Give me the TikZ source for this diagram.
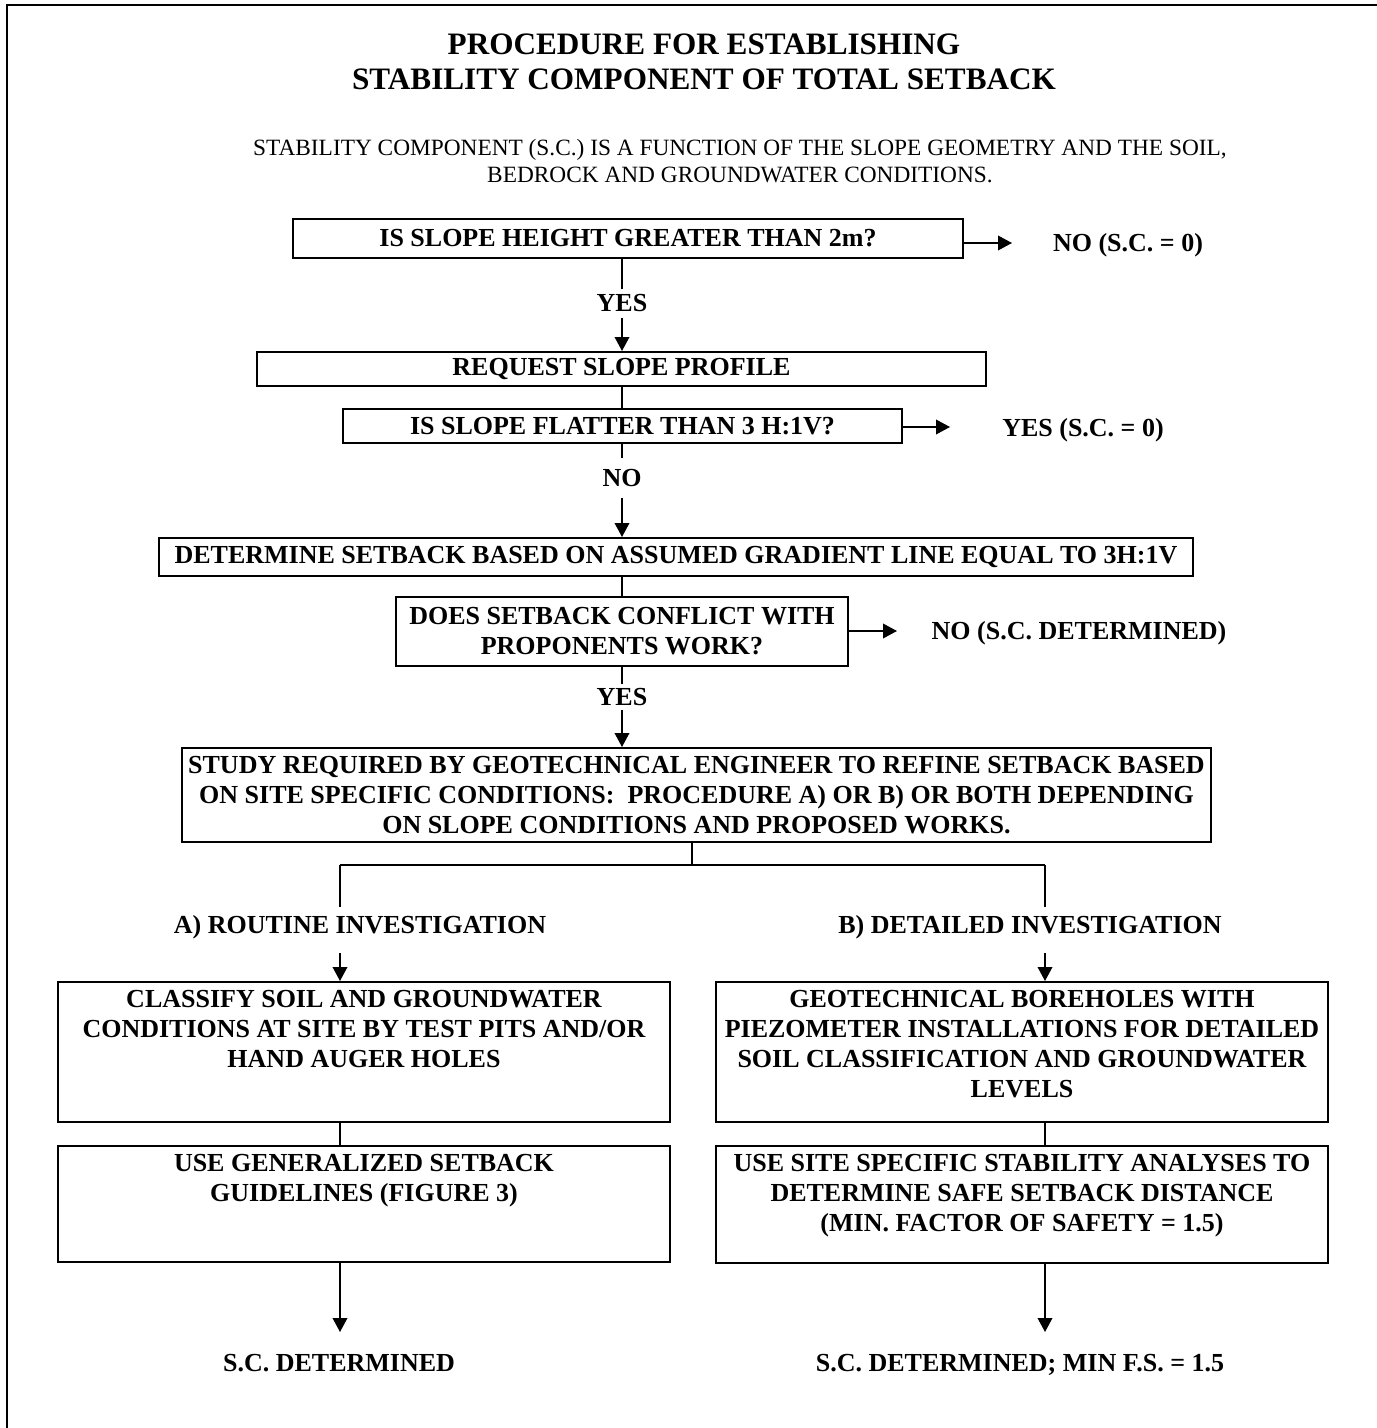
\documentclass[tikz,border=0pt]{standalone}
\usepackage{fontspec}
\setmainfont{Liberation Serif}
\usetikzlibrary{arrows.meta}

\newcommand{\fctitle}{\fontsize{23.4pt}{26.25pt}\selectfont\bfseries}
\newcommand{\fcnote}{\fontsize{17.5pt}{20.6pt}\selectfont}
\newcommand{\fcbox}{\fontsize{19.5pt}{22.5pt}\selectfont\bfseries}

\tikzset{every picture/.style={line width=1.1pt}}
\tikzset{
  box/.style={draw, line width=1.5pt, inner sep=0pt, align=center, font=\fcbox},
  boxtext/.style={inner sep=0pt, align=center, font=\fcbox},
  outcome/.style={inner sep=0pt, font=\fcbox},
  answer/.style={fill=white, inner xsep=2pt, inner ysep=3.5pt, font=\fcbox},
  flowarrow/.style={-{Triangle[length=10.5pt,width=11pt]}},
}

\begin{document}
\begin{tikzpicture}[x=0.75pt,y=0.75pt,yscale=-1,xscale=1]
\useasboundingbox (0,0) rectangle (1377,1428);

%Straight Lines (frame)
\draw [line width=1.3pt] (7,1428) -- (7,5) -- (1377,5) ;

% Text Node
\node (title) at (704,61.5) [align=center, inner sep=0pt, font=\fctitle] {PROCEDURE FOR ESTABLISHING\\STABILITY COMPONENT OF TOTAL SETBACK};
% Text Node
\node (note) at (740,161) [align=center, inner sep=0pt, font=\fcnote] {STABILITY COMPONENT (S.C.) IS A FUNCTION OF THE SLOPE GEOMETRY AND THE SOIL,\\BEDROCK AND GROUNDWATER CONDITIONS.};

%Flowchart: Process
\node (height) at (628,238.5) [box, minimum width=502.5pt, minimum height=29.25pt] {IS SLOPE HEIGHT GREATER THAN 2m?};
%Flowchart: Process
\node (request) at (621.5,369) [box, minimum width=546.75pt, minimum height=25.5pt] {REQUEST SLOPE PROFILE};
%Flowchart: Process
\node (flatter) at (622.5,426) [box, minimum width=419.25pt, minimum height=25.5pt] {IS SLOPE FLATTER THAN 3 H:1V?};
%Flowchart: Process
\node (gradient) at (676,557) [box, minimum width=775.5pt, minimum height=28.5pt] {DETERMINE SETBACK BASED ON ASSUMED GRADIENT LINE EQUAL TO 3H:1V};
%Flowchart: Process
\node (conflict) at (622,631.5) [box, minimum width=339pt, minimum height=51.75pt] {DOES SETBACK CONFLICT WITH\\PROPONENTS WORK?};
%Flowchart: Process
\node (study) at (696.5,795) [box, minimum width=771.75pt, minimum height=70.5pt] {STUDY REQUIRED BY GEOTECHNICAL ENGINEER TO REFINE SETBACK BASED\\ON SITE SPECIFIC CONDITIONS:\ \ PROCEDURE A) OR B) OR BOTH DEPENDING\\ON SLOPE CONDITIONS AND PROPOSED WORKS.};

%Flowchart: Process
\node (classify) at (364,1052) [box, minimum width=459pt, minimum height=105pt] {};
\node (classifytxt) at (364,989.5) [boxtext, anchor=north] {CLASSIFY SOIL AND GROUNDWATER\\CONDITIONS AT SITE BY TEST PITS AND/OR\\HAND AUGER HOLES};
%Flowchart: Process
\node (general) at (364,1204) [box, minimum width=459pt, minimum height=87pt] {};
\node (generaltxt) at (364,1153.5) [boxtext, anchor=north] {USE GENERALIZED SETBACK\\GUIDELINES (FIGURE 3)};
%Flowchart: Process
\node (borehole) at (1022,1052) [box, minimum width=459pt, minimum height=105pt] {};
\node (boreholetxt) at (1022,989.5) [boxtext, anchor=north] {GEOTECHNICAL BOREHOLES WITH\\PIEZOMETER INSTALLATIONS FOR DETAILED\\SOIL CLASSIFICATION AND GROUNDWATER\\LEVELS};
%Flowchart: Process
\node (analysis) at (1022,1204.5) [box, minimum width=459pt, minimum height=87.75pt] {};
\node (analysistxt) at (1022,1153.5) [boxtext, anchor=north] {USE SITE SPECIFIC STABILITY ANALYSES TO\\DETERMINE SAFE SETBACK DISTANCE\\(MIN. FACTOR OF SAFETY = 1.5)};

% Text Node
\node (yes1) at (622,303.5) [answer] {YES};
\node (no1) at (622,478) [answer, inner ysep=8pt] {NO};
\node (yes2) at (622,697) [answer, inner ysep=3pt] {YES};
% Text Node
\node (nozero) at (1128,245.5) [outcome] {NO (S.C. = 0)};
\node (yeszero) at (1083,430) [outcome] {YES (S.C. = 0)};
\node (nodet) at (1079,633.5) [outcome] {NO (S.C. DETERMINED)};
\node (routine) at (360,927) [outcome] {A) ROUTINE INVESTIGATION};
\node (detailed) at (1030,927) [outcome] {B) DETAILED INVESTIGATION};
\node (scleft) at (339,1363) [outcome] {S.C. DETERMINED};
\node (scright) at (1020,1365) [outcome] {S.C. DETERMINED; MIN F.S. = 1.5};

\coordinate (noarr) at (1012,243);
\coordinate (yesarr) at (950,427);
\coordinate (detarr) at (897,631);
\coordinate (split) at (692,865);
\coordinate (splitl) at (340,865);
\coordinate (splitr) at (1045,865);
\coordinate (routtop) at (340,907);
\coordinate (dettop) at (1045,907);
\coordinate (routbot) at (340,953);
\coordinate (detbot) at (1045,953);
\coordinate (scl) at (340,1332);
\coordinate (scr) at (1045,1332);

%Straight Lines
\draw (height.south -| yes1) -- (yes1) ;
\draw [flowarrow] (yes1) -- (yes1 |- request.north) ;
\draw (request.south -| yes1) -- (flatter.north -| yes1) ;
\draw (flatter.south -| no1) -- (no1) ;
\draw [flowarrow] (no1) -- (no1 |- gradient.north) ;
\draw (gradient.south -| yes2) -- (conflict.north -| yes2) ;
\draw (conflict.south -| yes2) -- (yes2) ;
\draw [flowarrow] (yes2) -- (yes2 |- study.north) ;
%Straight Lines
\draw [flowarrow] (height.east |- noarr) -- (noarr) ;
\draw [flowarrow] (flatter.east |- yesarr) -- (yesarr) ;
\draw [flowarrow] (conflict.east |- detarr) -- (detarr) ;
%Straight Lines
\draw (study.south -| split) -- (split) ;
\draw (splitl) -- (splitr) ;
\draw (splitl) -- (routtop) ;
\draw (splitr) -- (dettop) ;
\draw [flowarrow] (routbot) -- (routbot |- classify.north) ;
\draw [flowarrow] (detbot) -- (detbot |- borehole.north) ;
\draw (classify.south -| routbot) -- (general.north -| routbot) ;
\draw (borehole.south -| detbot) -- (analysis.north -| detbot) ;
\draw [flowarrow] (general.south -| scl) -- (scl) ;
\draw [flowarrow] (analysis.south -| scr) -- (scr) ;
\end{tikzpicture}
\end{document}
